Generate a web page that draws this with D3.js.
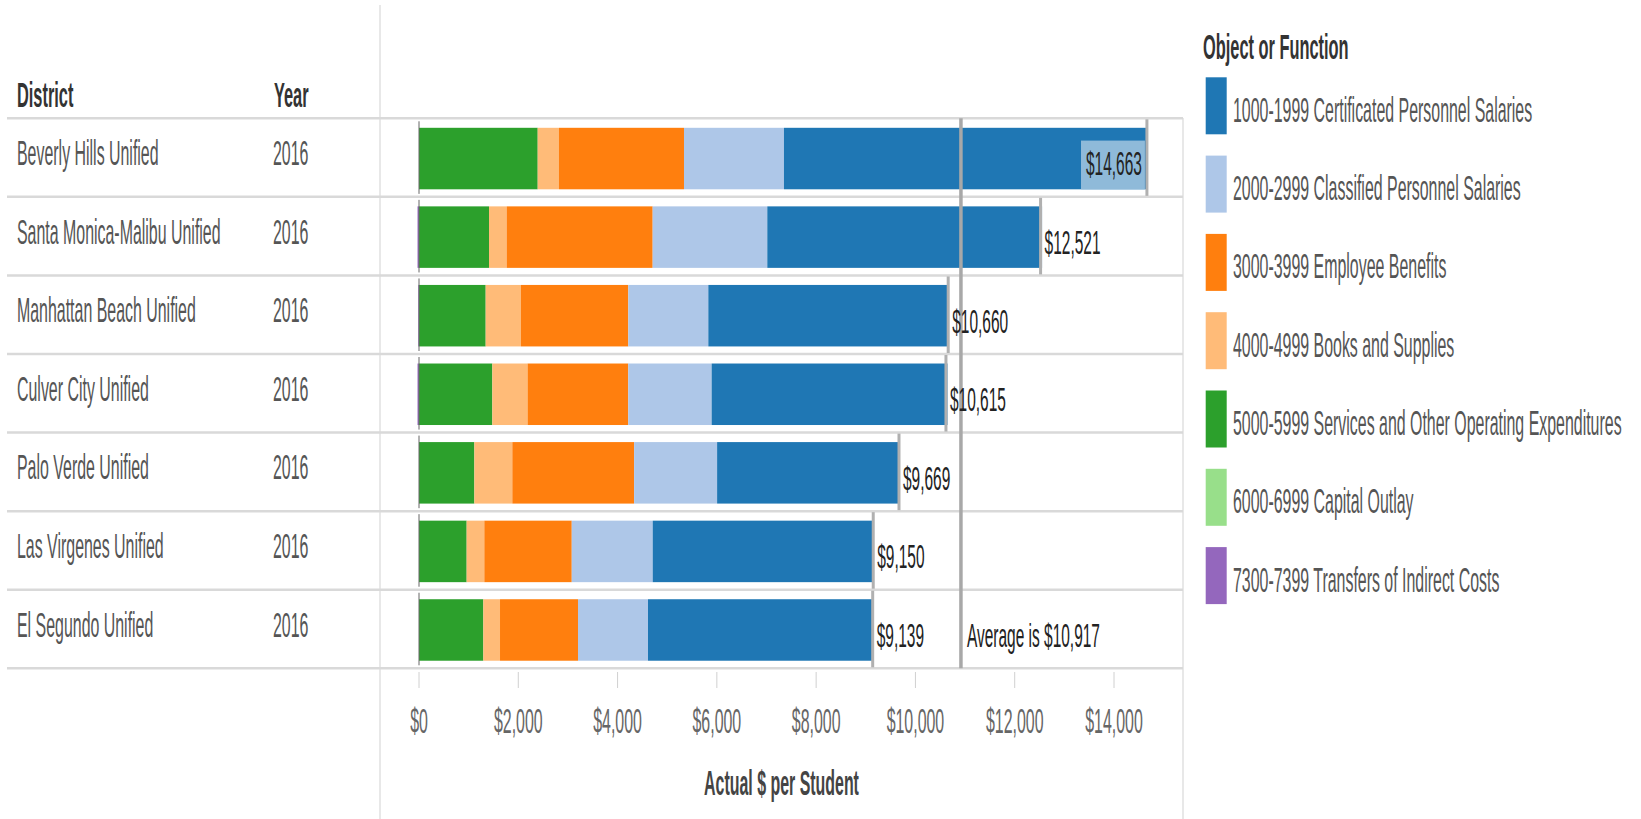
<!DOCTYPE html>
<html>
<head>
<meta charset="utf-8">
<script src="https://d3js.org/d3.v7.min.js"></script>
<style>
  body { margin: 0; background: #fff; }
  text { font-family: "Liberation Sans", Arial, sans-serif; }
</style>
</head>
<body>
<script>
var districts = ["Beverly Hills Unified", "Santa Monica-Malibu Unified", "Manhattan Beach Unified",
                 "Culver City Unified", "Palo Verde Unified", "Las Virgenes Unified", "El Segundo Unified"];
var years = ["2016", "2016", "2016", "2016", "2016", "2016", "2016"];

var categories = ["1000-1999 Certificated Personnel Salaries", "2000-2999 Classified Personnel Salaries",
                  "3000-3999 Employee Benefits", "4000-4999 Books and Supplies",
                  "5000-5999 Services and Other Operating Expenditures", "6000-6999 Capital Outlay",
                  "7300-7399 Transfers of Indirect Costs"];
var colors = ["#1f77b4", "#aec7e8", "#ff7f0e", "#ffbb78", "#2ca02c", "#98df8a", "#9467bd"];

// values per district, one array per object/function
var certificated = [7311, 5535, 4847, 4750, 3664, 4442, 4526];
var classified   = [2014, 2309, 1612, 1680, 1672, 1631, 1410];
var benefits     = [2518, 2941, 2162, 2028, 2453, 1761, 1571];
var books        = [429, 356, 711, 710, 765, 356, 336];
var services     = [2391, 1410, 1343, 1477, 1115, 960, 1296];
var capital      = [0, 0, 0, 0, 0, 0, 0];
var transfers    = [0, -30, -15, -30, 0, 0, 0];

var xTicks = [0, 2000, 4000, 6000, 8000, 10000, 12000, 14000];

var width = 1641, height = 819;
var sx = 0.455; // condensed type

var svg = d3.select("body").append("svg").attr("width", width).attr("height", height);

var series = [certificated, classified, benefits, books, services, capital, transfers];
var rows = districts.map(function(d, i) {
    var r = {district: d, year: years[i]};
    categories.forEach(function(c, j) { r[c] = series[j][i]; });
    r.total = d3.sum(series, function(s) { return s[i]; });
    return r;
});
var average = d3.mean(rows, function(d) { return d.total; });

var x = d3.scaleLinear().domain([0, 14000]).range([419, 1114]);
var y = d3.scaleBand().domain(districts).range([118.3, 668.3]);
var paneLeft = 380, paneRight = 1183;

function addText(g, px, py, str, size, opts) {
    opts = opts || {};
    return g.append("text")
        .attr("transform", "translate(" + px + "," + py + ") scale(" + sx + ",1)")
        .attr("font-size", size)
        .attr("font-weight", opts.bold ? "bold" : "normal")
        .attr("text-anchor", opts.anchor || "start")
        .attr("fill", opts.fill || "#555")
        .text(str);
}

// pane dividers
svg.append("line").attr("x1", paneLeft).attr("x2", paneLeft).attr("y1", 5).attr("y2", height)
    .attr("stroke", "#e0e0e0").attr("stroke-width", 1.5);
svg.append("line").attr("x1", paneRight).attr("x2", paneRight).attr("y1", 118).attr("y2", height)
    .attr("stroke", "#e0e0e0").attr("stroke-width", 1.5);

// row separators
var seps = districts.map(function(d) { return y(d); }).concat([y.range()[1]]);
svg.append("g").selectAll("line").data(seps).enter().append("line")
    .attr("x1", 7).attr("x2", paneRight).attr("y1", function(d){return d;}).attr("y2", function(d){return d;})
    .attr("stroke", "#d9d9d9").attr("stroke-width", 2.5);

// headers
addText(svg, 17, 106.7, "District", 36, {bold: true, fill: "#333"});
addText(svg, 274, 106.7, "Year", 36, {bold: true, fill: "#333"});

// row labels
var rowG = svg.append("g");
rows.forEach(function(r) {
    var cy = y(r.district) + y.bandwidth() / 2;
    addText(rowG, 17, cy + 7.5, r.district, 35);
    addText(rowG, 273, cy + 7.5, r.year, 35);
});

// stacked bars
var keys = categories.slice().reverse();
var stack = d3.stack().keys(keys).offset(d3.stackOffsetDiverging);
var stacked = stack(rows);
var barTop = 9.5, barH = 61.5;

svg.append("g").selectAll("g").data(stacked).enter().append("g")
    .attr("fill", function(d) { return colors[categories.indexOf(d.key)]; })
    .selectAll("rect").data(function(d) { return d; }).enter().append("rect")
    .attr("x", function(d) { return x(Math.min(d[0], d[1])); })
    .attr("width", function(d) { return Math.abs(x(d[1]) - x(d[0])); })
    .attr("y", function(d) { return y(d.data.district) + barTop; })
    .attr("height", barH);

// zero line
svg.append("g").selectAll("line").data(rows).enter().append("line")
    .attr("x1", x(0)).attr("x2", x(0))
    .attr("y1", function(d){return y(d.district) + 3;})
    .attr("y2", function(d){return y(d.district) + y.bandwidth() - 3;})
    .attr("stroke", "#666").attr("stroke-width", 1);

// total reference line per row
svg.append("g").selectAll("line").data(rows).enter().append("line")
    .attr("x1", function(d){return x(d.total);}).attr("x2", function(d){return x(d.total);})
    .attr("y1", function(d){return y(d.district) + 1;})
    .attr("y2", function(d){return y(d.district) + y.bandwidth() - 1;})
    .attr("stroke", "#b0b0b0").attr("stroke-width", 3);

// average reference line
svg.append("line").attr("x1", x(average)).attr("x2", x(average))
    .attr("y1", y.range()[0]).attr("y2", y.range()[1])
    .attr("stroke", "#a8a8a8").attr("stroke-width", 3.5);

// total labels
var fmt = d3.format("$,.0f");
var labG = svg.append("g");
rows.forEach(function(r) {
    var cy = y(r.district) + y.bandwidth() / 2;
    var xe = x(r.total);
    var t = addText(labG, xe + 4, cy + 18, fmt(r.total), 34, {fill: "#222"});
    var w = t.node().getBBox().width * sx;
    if (xe + 4 + w > paneRight - 5) {
        t.remove();
        labG.append("rect").attr("x", xe - w - 10).attr("y", cy - 17)
            .attr("width", w + 8).attr("height", y(r.district) + barTop + barH - (cy - 17))
            .attr("fill", "#8fbad9");
        addText(labG, xe - 5, cy + 17, fmt(r.total), 34, {anchor: "end", fill: "#222"});
    }
});
var last = rows[rows.length - 1];
addText(labG, x(average) + 6, y(last.district) + y.bandwidth() / 2 + 18,
        "Average is " + fmt(average), 34, {fill: "#222"});

// x axis
var axisG = svg.append("g");
axisG.selectAll("line").data(xTicks).enter().append("line")
    .attr("x1", function(d){return x(d);}).attr("x2", function(d){return x(d);})
    .attr("y1", 672).attr("y2", 688).attr("stroke", "#d0d0d0").attr("stroke-width", 1);
xTicks.forEach(function(t) {
    addText(axisG, x(t), 733, fmt(t), 35, {anchor: "middle", fill: "#666"});
});
addText(axisG, (paneLeft + paneRight) / 2, 795, "Actual $ per Student", 35, {bold: true, anchor: "middle", fill: "#444"});

// legend
var legG = svg.append("g");
addText(legG, 1203, 59, "Object or Function", 36, {bold: true, fill: "#333"});
categories.forEach(function(c, i) {
    var ty = 77.3 + i * 78.3;
    legG.append("rect").attr("x", 1205.7).attr("y", ty).attr("width", 21).attr("height", 57)
        .attr("fill", colors[i]);
    addText(legG, 1233, ty + 44.4, c, 35);
});
</script>
</body>
</html>
